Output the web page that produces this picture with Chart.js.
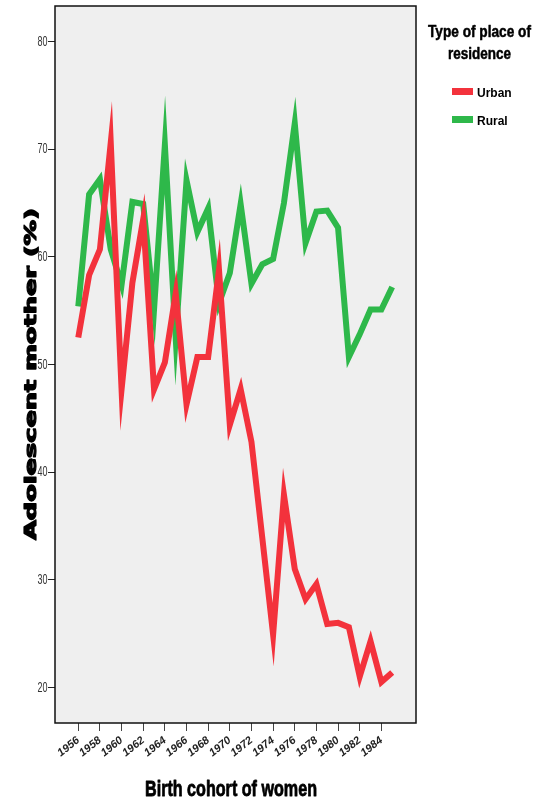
<!DOCTYPE html>
<html>
<head>
<meta charset="utf-8">
<script src="https://cdn.jsdelivr.net/npm/chart.js@4.4.1/dist/chart.umd.min.js"></script>
<style>
    body { margin: 0; background: #fff; }
    #wrap { width: 552px; height: 803px; }
</style>
</head>
<body>
<div id="wrap"><canvas id="cohortChart" width="552" height="803"></canvas></div>
<script>
// Birth cohorts and % adolescent mothers
const years = [1956, 1957, 1958, 1959, 1960, 1961, 1962, 1963, 1964, 1965,
               1966, 1967, 1968, 1969, 1970, 1971, 1972, 1973, 1974, 1975,
               1976, 1977, 1978, 1979, 1980, 1981, 1982, 1983, 1984, 1985];
const urban = [52.5, 58.3, 60.7, 70.6, 47.7, 57.6, 63.5, 47.7, 50.2, 56.6,
               46.3, 50.7, 50.7, 58.8, 44.4, 47.7, 42.8, 33.9, 24.9, 37.9,
               31.0, 28.2, 29.6, 25.9, 26.0, 25.6, 21.0, 24.3, 20.5, 21.4];
const rural = [55.4, 65.8, 67.2, 60.7, 57.4, 65.1, 64.9, 55.1, 70.4, 52.5,
               67.1, 62.3, 64.5, 55.7, 58.5, 64.9, 57.5, 59.3, 59.8, 65.0,
               72.4, 61.3, 64.2, 64.3, 62.7, 50.7, 52.8, 55.1, 55.1, 57.2];
const xTickYears = [1956, 1958, 1960, 1962, 1964, 1966, 1968, 1970, 1972, 1974, 1976, 1978, 1980, 1982, 1984];
const yTickValues = [20, 30, 40, 50, 60, 70, 80];
const seriesNames = ['Urban', 'Rural'];
const seriesColors = ['#f3323c', '#2eb84a'];

const narrow = "'Liberation Sans Narrow', 'Liberation Sans', Arial, sans-serif";

// draw a string squeezed to a given width, optionally thickened
function fitText(ctx, text, x, y, width, font, heavy, align) {
    ctx.font = font;
    let w = ctx.measureText(text).width;
    ctx.save();
    ctx.translate(x, y);
    ctx.scale(width / w, 1);
    ctx.textAlign = align || 'center';
    ctx.fillText(text, 0, 0);
    if (heavy) {
        ctx.lineWidth = heavy;
        ctx.strokeStyle = ctx.fillStyle;
        ctx.lineJoin = 'round';
        ctx.strokeText(text, 0, 0);
    }
    ctx.restore();
}

// Plot background, frame, axis titles and legend (SPSS look)
const decorPlugin = {
    id: 'decor',
    beforeDraw(chart) {
        let ctx = chart.ctx;
        let a = chart.chartArea;
        ctx.save();
        ctx.fillStyle = '#efefef';
        ctx.fillRect(a.left, a.top, a.right - a.left, a.bottom - a.top);
        ctx.restore();
    },
    beforeDatasetsDraw(chart) {
        // sharp pointed corners like the original
        chart.ctx.miterLimit = 100;
    },
    afterDraw(chart) {
        let ctx = chart.ctx;
        let a = chart.chartArea;
        ctx.save();
        ctx.strokeStyle = '#111';
        ctx.lineWidth = 1.5;
        ctx.strokeRect(a.left, a.top, a.right - a.left, a.bottom - a.top);

        // y tick labels, tall and narrow
        ctx.fillStyle = '#333';
        ctx.textBaseline = 'middle';
        yTickValues.forEach(v => {
            let py = chart.scales.y.getPixelForValue(v);
            fitText(ctx, String(v), 47.5, py, 10, "15px " + narrow, 0, 'right');
        });

        ctx.fillStyle = '#000';
        ctx.textBaseline = 'alphabetic';
        // x axis title
        fitText(ctx, 'Birth cohort of women', 231, 796, 172, "bold 22px " + narrow, 0.8);

        // y axis title, rotated
        ctx.save();
        ctx.translate(36, 374);
        ctx.rotate(-Math.PI / 2);
        fitText(ctx, 'Adolescent mother (%)', 0, 0, 332, "bold 15px 'DejaVu Sans', sans-serif", 1.2);
        ctx.restore();

        // legend
        fitText(ctx, 'Type of place of', 479.5, 37, 103, "bold 16px " + narrow, 0.5);
        fitText(ctx, 'residence', 479.5, 59, 63, "bold 16px " + narrow, 0.5);
        seriesNames.forEach((name, i) => {
            let y = 88 + i * 28;
            ctx.fillStyle = seriesColors[i];
            ctx.fillRect(452, y, 21, 7);
            ctx.fillStyle = '#000';
            ctx.textAlign = 'left';
            ctx.font = "bold 12px " + narrow;
            ctx.fillText(name, 477, y + 9);
        });
        ctx.restore();
    }
};

let ctx = document.getElementById('cohortChart').getContext('2d');
let chart = new Chart(ctx, {
    type: 'line',
    data: {
        datasets: seriesNames.map((name, i) => ({
            label: name,
            data: years.map((yr, j) => ({ x: yr, y: (i === 0 ? urban : rural)[j] })),
            borderColor: seriesColors[i],
            backgroundColor: seriesColors[i],
            borderWidth: 6,
            borderJoinStyle: 'miter',
            pointRadius: 0,
            tension: 0,
            fill: false
        }))
    },
    options: {
        responsive: false,
        animation: false,
        layout: { padding: { top: 6, right: 136, left: 0, bottom: 0 } },
        plugins: { legend: { display: false }, tooltip: { enabled: false } },
        scales: {
            x: {
                type: 'linear',
                min: 1953.85,
                max: 1987.2,
                afterBuildTicks: s => { s.ticks = xTickYears.map(v => ({ value: v })); },
                afterFit: s => { s.height = 80; },
                border: { display: false },
                grid: { drawOnChartArea: false, drawTicks: true, tickLength: 8, color: '#444' },
                ticks: {
                    autoSkip: false,
                    minRotation: 38,
                    maxRotation: 38,
                    padding: 3,
                    color: '#222',
                    font: { family: narrow, size: 11, style: 'italic', weight: 'bold' },
                    callback: v => String(v)
                }
            },
            y: {
                min: 16.7,
                max: 83.3,
                afterBuildTicks: s => { s.ticks = yTickValues.map(v => ({ value: v })); },
                afterFit: s => { s.width = 55; },
                border: { display: false },
                grid: { drawOnChartArea: false, drawTicks: true, tickLength: 7, color: '#222' },
                ticks: { display: false }
            }
        }
    },
    plugins: [decorPlugin]
});
</script>
</body>
</html>
